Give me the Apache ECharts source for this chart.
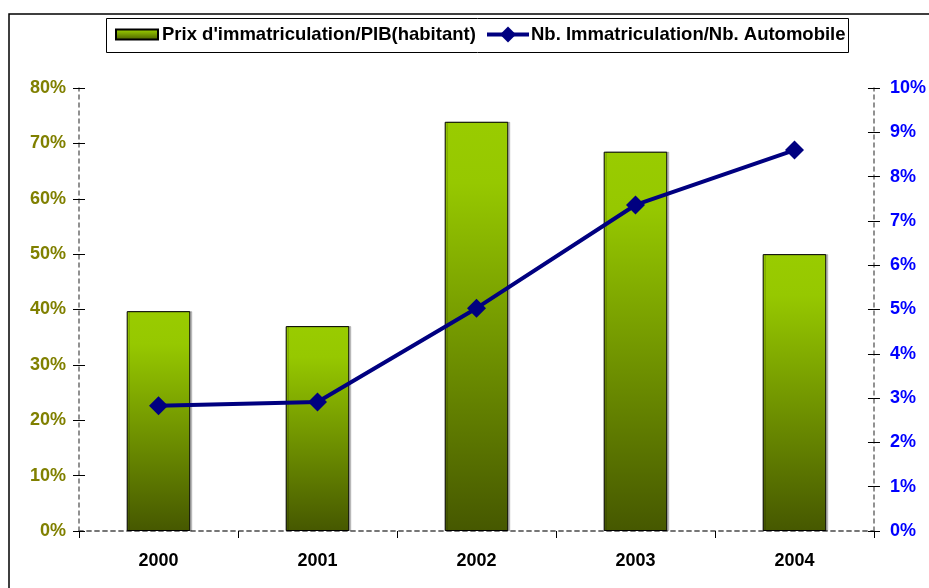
<!DOCTYPE html>
<html>
<head>
<meta charset="utf-8">
<script src="https://cdn.jsdelivr.net/npm/echarts@6/dist/echarts.min.js"></script>
<style>html,body{margin:0;padding:0;background:#fff}#c{width:929px;height:588px}</style>
</head>
<body>
<div id="c"></div>
<script>
var categories = ['2000', '2001', '2002', '2003', '2004'];
var prixPib = [39.7, 37.0, 73.9, 68.5, 50.0];
var immatAuto = [2.83, 2.91, 5.03, 7.36, 8.60];
var leftTicks = { min: 0, max: 80, interval: 10 };
var rightTicks = { min: 0, max: 10, interval: 1 };
var seriesNames = ["Prix d'immatriculation/PIB(habitant)", 'Nb. Immatriculation/Nb. Automobile'];

var FONT = "'Liberation Sans', Arial, sans-serif";
var chart = echarts.init(document.getElementById('c'));
var dashed = { color: '#6e6e6e', type: [4, 4], width: 1.5 };
var legendText = { fontFamily: FONT, fontWeight: 'bold', fontSize: 18.5, color: '#000' };
chart.setOption({
  animation: false,
  backgroundColor: '#fff',
  graphic: [{
    type: 'rect', silent: true, z: -1,
    shape: { x: 9, y: 14, width: 1000, height: 1000 },
    style: { fill: 'none', stroke: '#000', lineWidth: 1.5 }
  }, {
    type: 'rect', silent: true, z: 0,
    shape: { x: 106.5, y: 18.5, width: 742, height: 34 },
    style: { fill: '#fff', stroke: '#000', lineWidth: 1 }
  }],
  legend: [{
    left: 115, top: 25, padding: 0,
    itemWidth: 42, itemHeight: 10,
    icon: 'rect',
    textStyle: Object.assign({ padding: [0, 0, 0, -1] }, legendText),
    data: [seriesNames[0]]
  }, {
    left: 485, top: 25, padding: 0,
    itemWidth: 42, itemHeight: 20,
    textStyle: Object.assign({ padding: [0, 0, 0, -3] }, legendText),
    lineStyle: { width: 4 },
    data: [seriesNames[1]]
  }],
  grid: { left: 79, right: 54, top: 88, bottom: 57, containLabel: false },
  xAxis: [{
    type: 'category', data: categories, position: 'bottom',
    axisLine: { lineStyle: dashed },
    axisTick: { show: true, alignWithLabel: false, length: 7, lineStyle: { color: '#000', width: 1 } },
    axisLabel: { fontFamily: FONT, fontWeight: 'bold', fontSize: 18, color: '#000', margin: 21 },
    splitLine: { show: false }
  }, {
    type: 'category', data: categories, position: 'top',
    axisLine: { lineStyle: dashed },
    axisTick: { show: false }, axisLabel: { show: false }
  }],
  yAxis: [{
    type: 'value', position: 'left', min: leftTicks.min, max: leftTicks.max, interval: leftTicks.interval,
    axisLine: { show: true, lineStyle: dashed },
    axisTick: { show: true, length: 6, lineStyle: { color: '#000', width: 1 } },
    axisLabel: { formatter: '{value}%', fontFamily: FONT, fontWeight: 'bold', fontSize: 18, color: '#808000', margin: 13 },
    splitLine: { show: false }
  }, {
    type: 'value', position: 'right', min: rightTicks.min, max: rightTicks.max, interval: rightTicks.interval,
    axisLine: { show: true, lineStyle: dashed },
    axisTick: { show: true, length: 6, lineStyle: { color: '#000', width: 1 } },
    axisLabel: { formatter: '{value}%', fontFamily: FONT, fontWeight: 'bold', fontSize: 18, color: '#0000ff', margin: 16 },
    splitLine: { show: false }
  }, {
    type: 'value', position: 'left', min: leftTicks.min, max: leftTicks.max, interval: leftTicks.interval,
    axisLine: { show: false },
    axisTick: { show: true, inside: true, length: 6, lineStyle: { color: '#000', width: 1 } },
    axisLabel: { show: false }, splitLine: { show: false }
  }, {
    type: 'value', position: 'right', min: rightTicks.min, max: rightTicks.max, interval: rightTicks.interval,
    axisLine: { show: false },
    axisTick: { show: true, inside: true, length: 6, lineStyle: { color: '#000', width: 1 } },
    axisLabel: { show: false }, splitLine: { show: false }
  }],
  series: [{
    name: seriesNames[0], type: 'bar', data: prixPib, yAxisIndex: 0, xAxisIndex: 0,
    barWidth: '40%',
    itemStyle: {
      color: new echarts.graphic.LinearGradient(0, 0, 0, 1, [
        { offset: 0, color: '#99cc00' },
        { offset: 0.15, color: '#96c800' },
        { offset: 1, color: '#465800' }
      ]),
      borderColor: '#000', borderWidth: 1,
      shadowColor: 'rgba(0,0,0,0.2)', shadowOffsetX: 2, shadowOffsetY: 0, shadowBlur: 0
    }
  }, {
    name: seriesNames[1], type: 'line', data: immatAuto, yAxisIndex: 1, xAxisIndex: 0,
    symbol: 'diamond', symbolSize: 19,
    lineStyle: { color: '#000080', width: 4 },
    itemStyle: { color: '#000080' }
  }]
});
</script>
</body>
</html>
